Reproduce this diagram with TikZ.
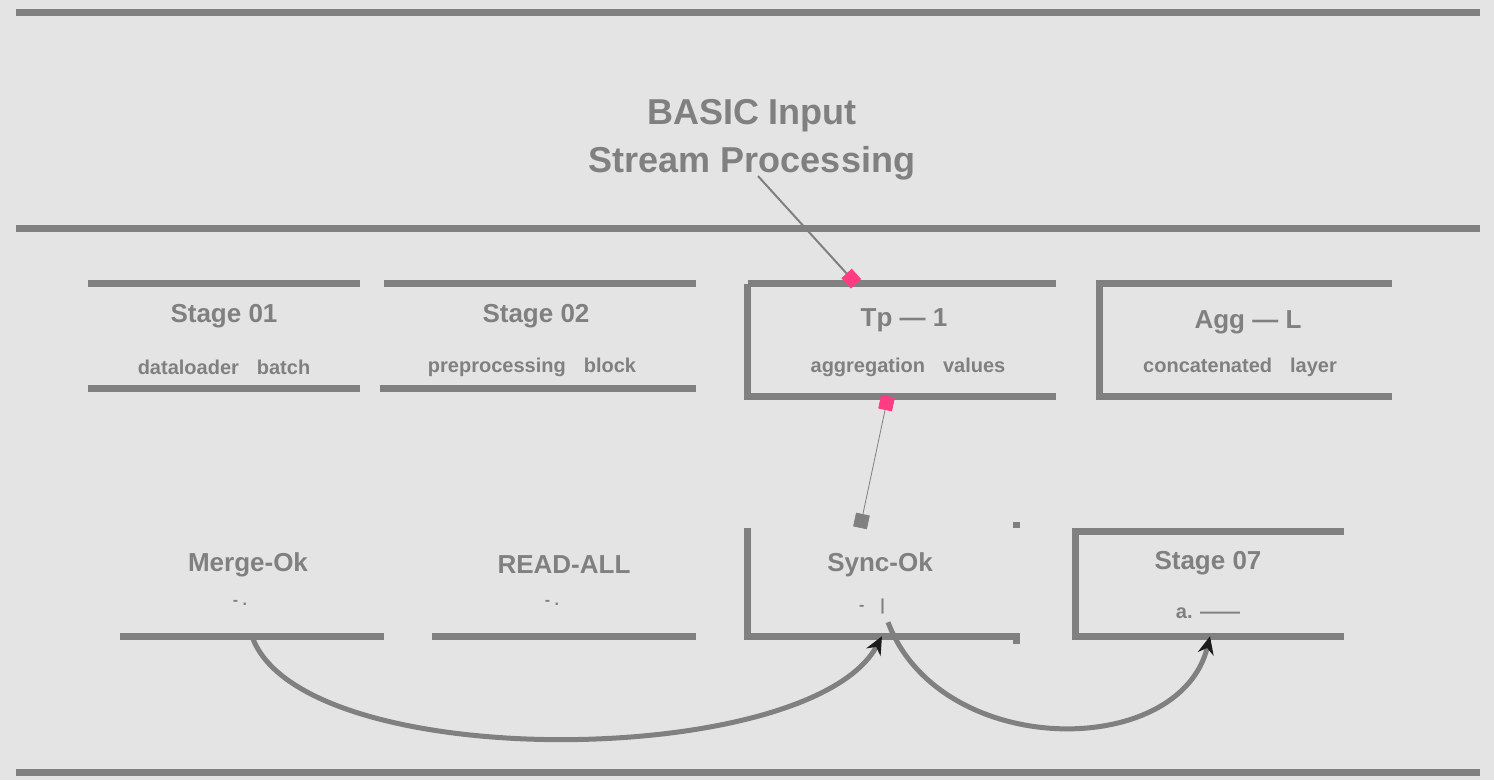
\documentclass[tikz,border=0pt]{standalone}
\usepackage{fontspec}
\setmainfont{Liberation Sans}
\usetikzlibrary{arrows.meta}
\definecolor{bg}{HTML}{E4E4E4}
\definecolor{ink}{HTML}{808080}
\definecolor{pinkc}{HTML}{FF3C82}
\definecolor{darkc}{HTML}{1C1C1C}
\tikzset{
  rule/.style={draw=ink,line width=7pt},
  edge/.style={draw=ink,line width=7pt},
  boxnode/.style={draw=none,inner sep=0pt,minimum width=#1},
  ttl/.style={text=ink,font=\fontsize{36}{40}\selectfont\bfseries,inner sep=0pt},
  lbl/.style={text=ink,font=\fontsize{26}{30}\selectfont\bfseries,inner sep=0pt},
  sub/.style={text=ink,font=\fontsize{20}{23}\selectfont\bfseries,inner sep=0pt},
  tiny/.style={text=ink,font=\fontsize{16}{18}\selectfont\bfseries,inner sep=0pt},
  thin/.style={draw=ink,line width=2pt},
  faint/.style={draw=ink,line width=0.8pt},
  curve/.style={draw=ink,line width=5pt},
}
\newcommand{\wgap}{\hspace{18pt}}
\begin{document}
\begin{tikzpicture}[x=1pt,y=-1pt]
\fill[bg] (0,0) rectangle (1494,780);
\useasboundingbox (0,0) rectangle (1494,780);
% rules
\draw[rule] (16,12) -- (1480,12);
\draw[rule] (16,228) -- (1480,228);
\draw[rule] (16,772) -- (1480,772);
% title
\node[ttl] (t1) at (752,116) {BASIC Input};
\node[ttl] (t2) at (752,163) {Stream Processing};
% row 1 boxes
\node[boxnode=272pt,minimum height=104pt] (b1) at (224,336) {};
\node[boxnode=316pt,minimum height=104pt] (b2) at (538,336) {};
\node[boxnode=308pt,minimum height=112pt] (b3) at (902,340) {};
\node[boxnode=292pt,minimum height=112pt] (b4) at (1246,340) {};
\draw[edge] (b1.north west) -- (b1.north east);
\draw[edge] (b1.south west) -- (b1.south east);
\draw[edge] ([xshift=4pt]b2.north west) -- (b2.north east);
\draw[edge] (b2.south west) -- (b2.south east);
\draw[edge] (b3.north west) -- (b3.north east);
\draw[edge] (b3.north west) -- (b3.south west) -- (b3.south east);
\draw[edge] (b4.north east) -- (b4.north west) -- (b4.south west) -- (b4.south east);
\node[lbl] (b1t) at (224,316) {Stage 01};
\node[sub] (b1s) at (224,367) {dataloader\wgap batch};
\node[lbl] (b2t) at (536,316) {Stage 02};
\node[sub] (b2s) at (532,367) {preprocessing\wgap block};
\node[lbl] (b3t) at (904,320) {Tp — 1};
\node[sub] (b3s) at (908,367) {aggregation\wgap values};
\node[lbl] (b4t) at (1248,322) {Agg — L};
\node[sub] (b4s) at (1240,367) {concatenated\wgap layer};
% row 2 boxes
\node[boxnode=264pt,minimum height=108pt] (b5) at (252,582) {};
\node[boxnode=264pt,minimum height=108pt] (b6) at (564,582) {};
\node[boxnode=268pt,minimum height=108pt] (b7) at (882,582) {};
\node[boxnode=268pt,minimum height=104pt] (b8) at (1210,584) {};
\draw[edge] (b5.south west) -- (b5.south east);
\draw[edge] (b6.south west) -- (b6.south east);
\draw[edge] (b7.north west) -- (b7.south west) -- (b7.south east) -- ([yshift=-8pt]b7.south east);
\draw[edge] (b7.north east) -- ([yshift=6pt]b7.north east);
\draw[edge] (b8.north east) -- (b8.north west) -- (b8.south west) -- (b8.south east);
\node[lbl] (b5t) at (248,565) {Merge-Ok};
\node[tiny] (b5s) at (240,603) {- .};
\node[lbl] (b6t) at (564,565) {READ-ALL};
\node[tiny] (b6s) at (552,603) {- .};
\node[lbl] (b7t) at (880,565) {Sync-Ok};
\node[tiny] (b7s) at (872,606) {-\quad|};
\node[lbl] (b8t) at (1208,563) {Stage 07};
\node[sub] (b8s) at (1208,613) {a. ——};
% connectors
\draw[thin,-{Square[pinkc,length=14pt,width=14pt]}] ([xshift=6pt,yshift=4pt]t2.south) -- ([xshift=-46pt]b3.north);
\draw[faint,{Square[pinkc,length=14pt,width=14pt]}-{Square[ink,length=14pt,width=14pt]}] ([xshift=-14pt]b3.south) -- ([xshift=-22pt]b7.north);
\draw[curve,-{Stealth[darkc,length=18pt,width=16pt]}] (b5.south) .. controls (300,775) and (810,770) .. (b7.south);
\draw[curve,-{Stealth[darkc,length=18pt,width=16pt]}] ([xshift=6pt,yshift=14pt]b7.south) .. controls (940,760) and (1180,760) .. (b8.south);
\end{tikzpicture}
\end{document}
